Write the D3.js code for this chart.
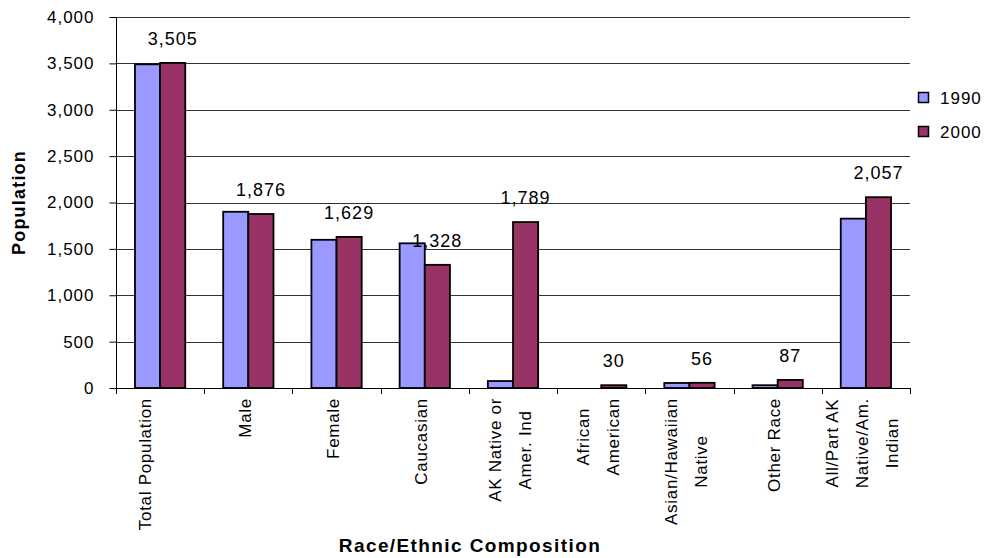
<!DOCTYPE html>
<html>
<head>
<meta charset="utf-8">
<script src="https://cdn.jsdelivr.net/npm/d3@7/dist/d3.min.js"></script>
<style>
  html, body { margin: 0; padding: 0; background: #fff; }
  svg { display: block; font-family: Arial, "Liberation Sans", sans-serif; }
</style>
</head>
<body>
<svg id="chart" width="990" height="558"></svg>
<script>
// Population by race/ethnic group, 1990 vs 2000
const categories = [
  ["Total Population"],
  ["Male"],
  ["Female"],
  ["Caucasian"],
  ["AK Native or", "Amer. Ind"],
  ["African", "American"],
  ["Asian/Hawaiian", "Native"],
  ["Other Race"],
  ["All/Part AK", "Native/Am.", "Indian"]
];
const seriesNames = ["1990", "2000"];
const values1990 = [3490, 1900, 1598, 1560, 75, 0, 54, 30, 1826];
const values2000 = [3505, 1876, 1629, 1328, 1789, 30, 56, 87, 2057];
const yTicks = [0, 500, 1000, 1500, 2000, 2500, 3000, 3500, 4000];
const colors = ["#9999FF", "#993366"];

const svg = d3.select("#chart");
const plot = { left: 116, right: 910, top: 17, bottom: 388 };

const x0 = d3.scaleBand()
  .domain(d3.range(categories.length))
  .range([plot.left, plot.right])
  .paddingInner(0.43)
  .paddingOuter(0.215);
const x1 = d3.scaleBand()
  .domain(seriesNames)
  .range([0, x0.bandwidth()]);
const y = d3.scaleLinear().domain([0, 4000]).range([plot.bottom, plot.top]);
const step = (plot.right - plot.left) / categories.length;

const fmt = d3.format(",");
const series = [values1990, values2000];

// gridlines
svg.append("g")
  .selectAll("line")
  .data(yTicks.filter(t => t > 0))
  .join("line")
  .attr("x1", plot.left).attr("x2", plot.right)
  .attr("y1", d => Math.round(y(d)) + 0.5).attr("y2", d => Math.round(y(d)) + 0.5)
  .attr("stroke", "#333").attr("stroke-width", 1);

// bars
const groups = svg.append("g")
  .selectAll("g")
  .data(categories.map((c, i) => i))
  .join("g")
  .attr("transform", i => `translate(${x0(i)},0)`);

groups.selectAll("rect")
  .data(i => seriesNames.map((s, k) => ({ s, k, v: series[k][i] })).filter(d => d.v > 0))
  .join("rect")
  .attr("x", d => x1(d.s))
  .attr("y", d => y(d.v))
  .attr("width", x1.bandwidth())
  .attr("height", d => y(0) - y(d.v))
  .attr("fill", d => colors[d.k])
  .attr("stroke", "#000")
  .attr("stroke-width", 1.8);

// value labels on the 2000 series
groups.append("text")
  .attr("x", x1("2000") + x1.bandwidth() / 2)
  .attr("y", i => y(values2000[i]) - 18)
  .attr("text-anchor", "middle")
  .attr("font-size", 18)
  .attr("letter-spacing", 1)
  .attr("fill", "#000")
  .text(i => fmt(values2000[i]));

// y axis
const yAxis = d3.axisLeft(y)
  .tickValues(yTicks)
  .tickFormat(fmt)
  .tickSize(7)
  .tickPadding(15);
const gy = svg.append("g")
  .attr("transform", `translate(${plot.left + 0.5},0)`)
  .call(yAxis);
gy.select(".domain").attr("stroke", "#000").attr("d", `M0,${plot.top}V${plot.bottom}`);
gy.selectAll(".tick line").attr("stroke", "#000");
gy.selectAll(".tick text")
  .attr("font-size", 17)
  .attr("letter-spacing", 1)
  .attr("fill", "#000")
  .attr("font-family", "Arial, 'Liberation Sans', sans-serif");

// x axis line and category boundary ticks
const boundaries = d3.range(categories.length + 1).map(i => plot.left + i * step);
const gx = svg.append("g");
gx.append("line")
  .attr("x1", plot.left).attr("x2", plot.right)
  .attr("y1", plot.bottom + 0.5).attr("y2", plot.bottom + 0.5)
  .attr("stroke", "#000");
gx.selectAll("line.tk")
  .data(boundaries)
  .join("line")
  .attr("class", "tk")
  .attr("x1", d => Math.round(d) + 0.5).attr("x2", d => Math.round(d) + 0.5)
  .attr("y1", plot.bottom).attr("y2", plot.bottom + 6)
  .attr("stroke", "#000");

// rotated category labels, lines centred on each other
const labelTop = 398;
const lineGap = 30;
categories.forEach((lines, i) => {
  const cx = x0(i) + x0.bandwidth() / 2 + (i === 0 ? -15 : -3);
  const g = gx.append("g");
  const texts = g.selectAll("text")
    .data(lines)
    .join("text")
    .attr("font-size", 17)
    .attr("letter-spacing", 0.7)
    .attr("fill", "#000")
    .attr("text-anchor", "middle")
    .attr("dominant-baseline", "central")
    .text(d => d);
  const maxLen = d3.max(texts.nodes(), n => n.getComputedTextLength());
  const cy = labelTop + maxLen / 2;
  const n = lines.length;
  texts.attr("transform", (d, k) => {
    const lx = cx + (k - (n - 1) / 2) * lineGap;
    return `translate(${lx},${cy}) rotate(-90)`;
  });
});

// axis titles
svg.append("text")
  .attr("x", 470).attr("y", 552)
  .attr("text-anchor", "middle")
  .attr("font-size", 19)
  .attr("font-weight", "bold")
  .attr("letter-spacing", 1.4)
  .text("Race/Ethnic Composition");

svg.append("text")
  .attr("transform", `translate(25,${(plot.top + plot.bottom) / 2}) rotate(-90)`)
  .attr("text-anchor", "middle")
  .attr("font-size", 18)
  .attr("font-weight", "bold")
  .attr("letter-spacing", 1.2)
  .text("Population");

// legend
const legend = svg.append("g")
  .selectAll("g")
  .data(seriesNames)
  .join("g")
  .attr("transform", (d, k) => `translate(918,${98 + k * 34})`);
legend.append("rect")
  .attr("x", 0.5).attr("y", -5.5)
  .attr("width", 10).attr("height", 10)
  .attr("fill", (d, k) => colors[k])
  .attr("stroke", "#000").attr("stroke-width", 1.5);
legend.append("text")
  .attr("x", 22).attr("y", 0)
  .attr("dominant-baseline", "central")
  .attr("font-size", 17)
  .attr("letter-spacing", 1)
  .text(d => d);
</script>
</body>
</html>
